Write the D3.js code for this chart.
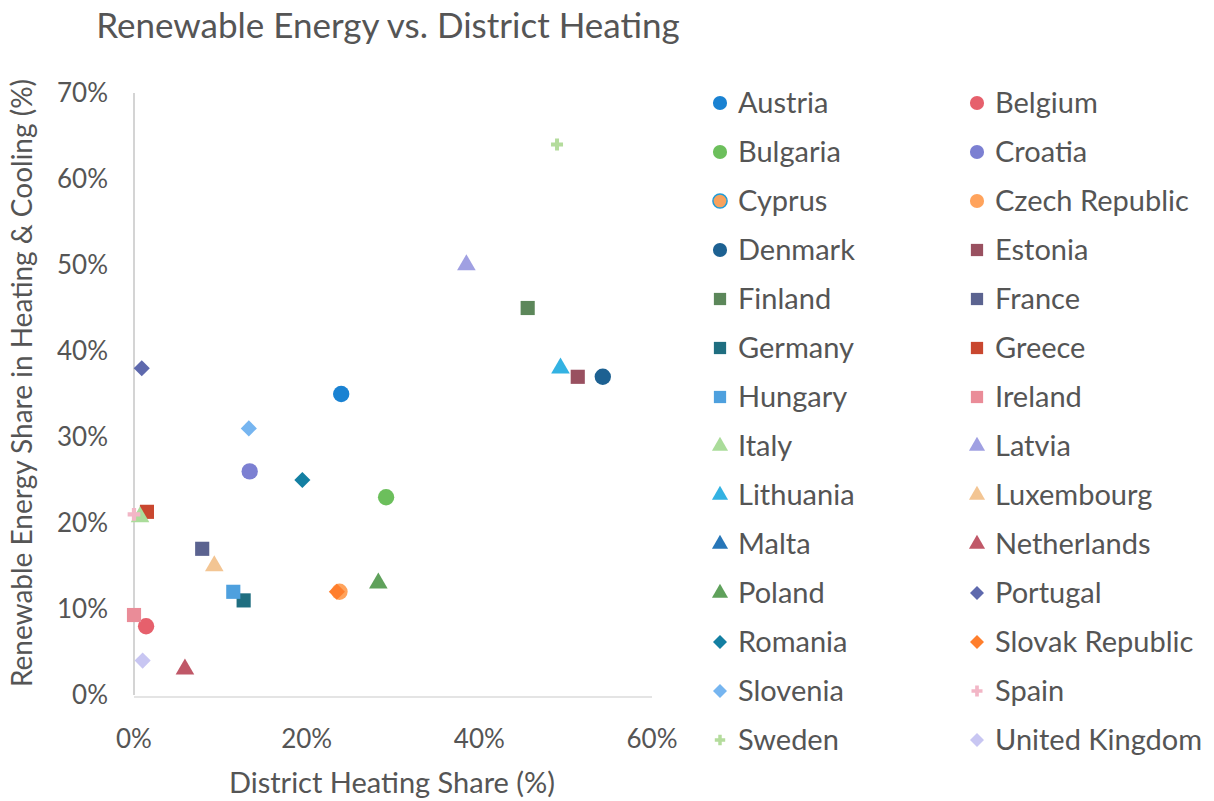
<!DOCTYPE html>
<html>
<head>
<meta charset="utf-8">
<script src="https://cdn.jsdelivr.net/npm/d3@7"></script>
<style>
  body { margin: 0; background: #fff; }
  svg text { font-family: Lato, "Open Sans", sans-serif; fill: #555; }
</style>
</head>
<body>
<div id="chart"></div>
<script>
// data
const countries = ['Austria', 'Belgium', 'Bulgaria', 'Croatia', 'Cyprus', 'Czech Republic', 'Denmark',
	'Estonia', 'Finland', 'France', 'Germany', 'Greece', 'Hungary', 'Ireland',
	'Italy', 'Latvia', 'Lithuania', 'Luxembourg', 'Malta', 'Netherlands', 'Poland',
	'Portugal', 'Romania', 'Slovak Republic', 'Slovenia', 'Spain', 'Sweden', 'United Kingdom']
// district heating share (%), null = no point shown
const dhShare = [24.0, 1.4, 29.2, 13.4, null, 23.8, 54.3,
	51.4, 45.6, 7.9, 12.7, 1.5, 11.5, 0.0,
	0.7, 38.5, 49.4, 9.3, null, 5.9, 28.3,
	0.9, 19.5, 23.5, 13.3, 0.0, 49.0, 1.0]
// renewable energy share in heating & cooling (%)
const resShare = [35, 8, 23, 26, null, 12, 37,
	37, 45, 17, 11, 21.3, 12, 9.3,
	20.7, 50, 38, 15, null, 3, 13,
	38, 25, 12, 31, 21, 64, 4]
const xTicks = [0, 20, 40, 60]
const yTicks = [0, 10, 20, 30, 40, 50, 60, 70]

// styles
const colors = ['#1a82d2', '#e6606c', '#6cbf5c', '#7c80d2', '#f7a25e', '#ffa35c', '#1d6192',
	'#995060', '#5c875a', '#5b6390', '#1f6e80', '#c9472f', '#4ea0de', '#ea8c98',
	'#aadc9a', '#a0a0e2', '#33b2e2', '#f3c593', '#2776b8', '#c05868', '#5fa15b',
	'#5e69ad', '#137fa2', '#ff7e2c', '#76b5f0', '#f2b6c6', '#b4dc9c', '#c8c6f2']
const shapes = ['circle', 'circle', 'circle', 'circle', 'circle', 'circle', 'circle',
	'square', 'square', 'square', 'square', 'square', 'square', 'square',
	'triangle', 'triangle', 'triangle', 'triangle', 'triangle', 'triangle', 'triangle',
	'diamond', 'diamond', 'diamond', 'diamond', 'cross', 'star', 'diamond']

const width = 1214, height = 801
const margin = { top: 93, left: 134 }
const plotW = 518, plotH = 602

const svg = d3.select('#chart').append('svg')
	.attr('width', width)
	.attr('height', height)

const x = d3.scaleLinear().domain([0, 60]).range([margin.left, margin.left + plotW])
const y = d3.scaleLinear().domain([0, 70]).range([margin.top + plotH, margin.top])

function symbolPath (shape, s) {
	const types = {
		circle: d3.symbolCircle,
		square: d3.symbolSquare,
		triangle: d3.symbolTriangle,
		diamond: d3.symbolSquare,
		cross: d3.symbolCross,
		star: d3.symbolCross
	}
	return d3.symbol().type(types[shape]).size(s)()
}
const sizeOf = { circle: 210, square: 200, triangle: 150, diamond: 130, cross: 90, star: 80 }

// Axis lines
svg.append('line')
	.attr('x1', x(0)).attr('x2', x(0))
	.attr('y1', y(70)).attr('y2', y(0))
	.attr('stroke', '#d4d4d4').attr('stroke-width', 2)
svg.append('line')
	.attr('x1', x(0)).attr('x2', x(60))
	.attr('y1', y(0) + 2).attr('y2', y(0) + 2)
	.attr('stroke', '#e4e4e4').attr('stroke-width', 2)

// Tick labels
svg.selectAll('.ytick').data(yTicks).enter().append('text')
	.attr('class', 'ytick')
	.attr('x', 108)
	.attr('y', (d) => y(d))
	.attr('dy', '0.35em')
	.attr('text-anchor', 'end')
	.attr('font-size', '26px')
	.text((d) => d + '%')

svg.selectAll('.xtick').data(xTicks).enter().append('text')
	.attr('class', 'xtick')
	.attr('x', (d) => x(d))
	.attr('y', 748)
	.attr('text-anchor', 'middle')
	.attr('font-size', '26px')
	.text((d) => d + '%')

// Titles
svg.append('text')
	.attr('x', 388).attr('y', 38)
	.attr('text-anchor', 'middle')
	.attr('font-size', '35px')
	.text('Renewable Energy vs. District Heating')

svg.append('text')
	.attr('x', 392).attr('y', 793)
	.attr('text-anchor', 'middle')
	.attr('font-size', '29px')
	.text('District Heating Share (%)')

svg.append('text')
	.attr('transform', 'translate(32,' + 383 + ') rotate(-90)')
	.attr('text-anchor', 'middle')
	.attr('font-size', '28px')
	.text('Renewable Energy Share in Heating & Cooling (%)')

// Points
const points = countries.map((c, i) => ({ name: c, x: dhShare[i], y: resShare[i], i }))
	.filter((d) => d.x !== null && d.y !== null)

svg.selectAll('.pt').data(points).enter().append('path')
	.attr('class', 'pt')
	.attr('d', (d) => symbolPath(shapes[d.i], sizeOf[shapes[d.i]]))
	.attr('transform', (d) => 'translate(' + x(d.x) + ',' + y(d.y) + ')' + (shapes[d.i] === 'diamond' ? ' rotate(45)' : ''))
	.attr('fill', (d) => colors[d.i])
	.attr('stroke', (d) => d.name === 'Cyprus' ? '#1f9cd8' : 'none')

// Legend
const legend = svg.append('g').attr('class', 'legend')
const rowY = (i) => 103 + Math.floor(i / 2) * 49
const colX = (i) => (i % 2 === 0 ? 720 : 977)

const items = legend.selectAll('.item').data(countries).enter().append('g')
	.attr('class', 'item')
	.attr('transform', (d, i) => 'translate(' + colX(i) + ',' + rowY(i) + ')')

items.append('path')
	.attr('d', (d, i) => symbolPath(shapes[i], sizeOf[shapes[i]] * 0.75))
	.attr('transform', (d, i) => shapes[i] === 'diamond' ? 'rotate(45)' : null)
	.attr('fill', (d, i) => colors[i])
	.attr('stroke', (d) => d === 'Cyprus' ? '#1f9cd8' : 'none')
	.attr('stroke-width', 1.5)

items.append('text')
	.attr('x', 18)
	.attr('dy', '0.35em')
	.attr('font-size', '29px')
	.text((d) => d)
</script>
</body>
</html>
